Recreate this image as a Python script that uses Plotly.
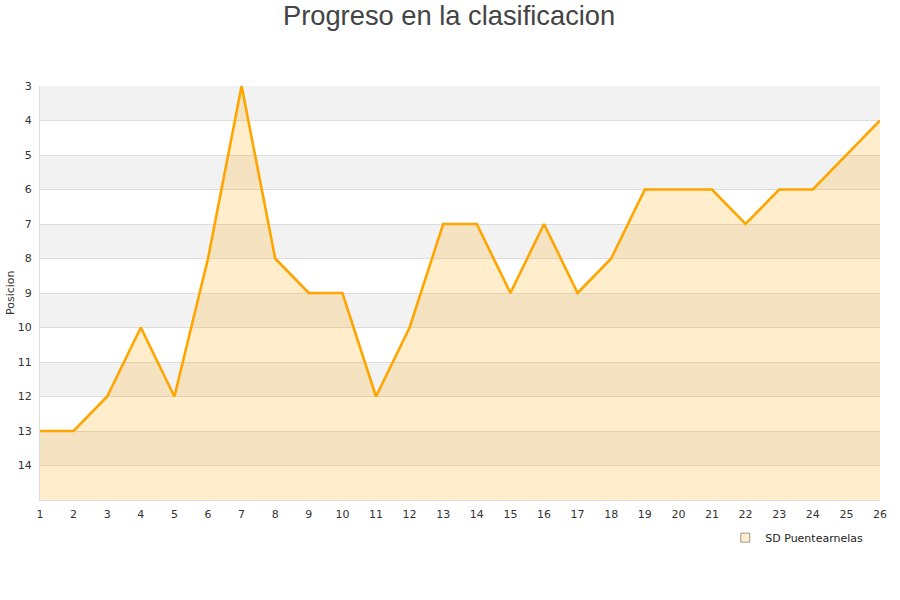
import plotly.graph_objects as go

jornadas = list(range(1, 27))
posiciones = [13, 13, 12, 10, 12, 8, 3, 8, 9, 9, 12, 10, 7, 7, 9, 7, 9, 8, 6, 6, 6, 7, 6, 6, 5, 4]
y_ticks = list(range(3, 15))
fondo = [15] * len(jornadas)
equipo = "SD Puentearnelas"

fig = go.Figure()

# alternating horizontal bands
for i, y in enumerate(range(3, 15)):
    if i % 2 == 0:
        fig.add_shape(type="rect", xref="paper", yref="y", x0=0, x1=1, y0=y, y1=y + 1,
                      fillcolor="#f2f2f2", line_width=0, layer="below")

fig.add_trace(go.Scatter(x=jornadas, y=fondo, mode="lines", line=dict(width=0),
                         showlegend=False, hoverinfo="skip"))
fig.add_trace(go.Scatter(x=jornadas, y=posiciones, mode="lines", fill="tonexty",
                         fillcolor="rgba(255,165,0,0.2)",
                         line=dict(color="#ffa500", width=2.6),
                         name=equipo, showlegend=False))
fig.add_trace(go.Scatter(x=[None], y=[None], mode="markers", name=equipo,
                         marker=dict(symbol="square", size=9, color="#ffedcc",
                                     line=dict(color="#999", width=1))))

# y axis title as annotation so it sits where the reference has it
fig.add_annotation(text="Posicion", xref="paper", yref="paper", x=-0.0357, y=0.5,
                   xanchor="center", yanchor="middle", textangle=-90, showarrow=False,
                   font=dict(size=11, color="#333"))

fig.update_layout(
    width=900, height=600,
    margin=dict(l=40, r=20, t=86, b=100, autoexpand=False),
    paper_bgcolor="white", plot_bgcolor="white",
    font=dict(family="DejaVu Sans", size=11, color="#333"),
    title=dict(text="Progreso en la clasificacion", xref="container", x=0.499,
               xanchor="center", y=0.975, yanchor="middle",
               font=dict(family="Liberation Sans", size=27.3, color="#444")),
    legend=dict(orientation="h", x=0.986, xanchor="right", y=-0.056, yanchor="top",
                itemwidth=30, font=dict(size=11, color="#222"), bgcolor="rgba(0,0,0,0)"),
    showlegend=True,
)
fig.update_xaxes(range=[1, 26], tickvals=jornadas, showgrid=False, zeroline=False,
                 showline=True, linecolor="#ddd", ticks="", automargin=False,
                 ticklabelstandoff=4, tickfont=dict(size=11, color="#333"))
fig.update_yaxes(range=[15, 3], tickvals=y_ticks, showgrid=True, gridcolor="#dddddd",
                 zeroline=False, showline=True, linecolor="#ddd", ticks="", automargin=False,
                 ticklabelstandoff=5, tickfont=dict(size=11, color="#333"))

# page without the browser's default body margin
fig.write_html("out.html", config={"displayModeBar": False},
               post_script="document.body.style.margin='0';")
